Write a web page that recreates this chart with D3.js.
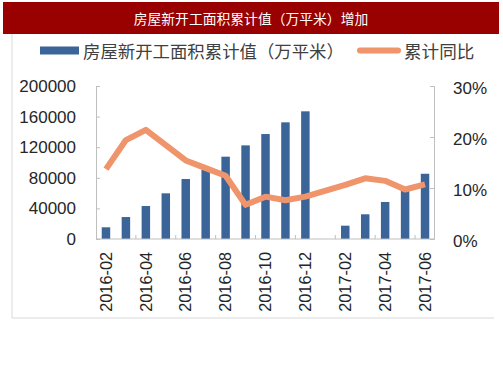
<!DOCTYPE html>
<html><head><meta charset="utf-8">
<script src="https://cdn.jsdelivr.net/npm/d3@7"></script>
<style>body{margin:0;background:#fff}svg{display:block}</style>
</head><body>
<svg id="c" width="503" height="378"></svg>
<script>
const categories = ["2016-02","2016-03","2016-04","2016-05","2016-06","2016-07","2016-08","2016-09","2016-10","2016-11","2016-12","2017-01","2017-02","2017-03","2017-04","2017-05","2017-06"];
const areaValues = [15300,28700,43100,59700,78400,90200,107600,122400,137200,152500,166900,null,17400,32300,48400,64000,85300];
const growthValues = [0.137,0.194,0.214,0.184,0.154,0.139,0.124,0.067,0.083,0.076,0.083,null,0.106,0.119,0.114,0.097,0.107];
const leftTicks = [0,40000,80000,120000,160000,200000];
const rightTicks = [0,0.1,0.2,0.3];
const xLabels = ["2016-02","2016-04","2016-06","2016-08","2016-10","2016-12","2017-02","2017-04","2017-06"];
const title = "房屋新开工面积累计值（万平米）增加";
const seriesNames = ["房屋新开工面积累计值（万平米）","累计同比"];

const svg = d3.select("#c");
const font = "'Liberation Sans', Arial, sans-serif";
const cjk = "'Noto Sans CJK SC', sans-serif";

// title bar
svg.append("rect").attr("x",3).attr("y",2).attr("width",496).attr("height",32).attr("fill","#990000");
svg.append("text").attr("x",251).attr("y",18).attr("text-anchor","middle").attr("dominant-baseline","central")
  .attr("fill","#fff").attr("font-family",cjk).attr("font-size",13.8).text(title);

// frame
svg.append("line").attr("x1",12).attr("x2",12).attr("y1",34).attr("y2",318).attr("stroke","#d9d9d9");
svg.append("line").attr("x1",12).attr("x2",494).attr("y1",318).attr("y2",318).attr("stroke","#d9d9d9");

// legend
svg.append("rect").attr("x",40).attr("y",46.5).attr("width",39).attr("height",8).attr("fill","#3b6499");
svg.append("text").attr("x",83).attr("y",50.5).attr("dominant-baseline","central").attr("fill","#404040")
  .attr("font-family",cjk).attr("font-size",17.4).text(seriesNames[0]);
svg.append("line").attr("x1",360).attr("x2",398).attr("y1",50.5).attr("y2",50.5).attr("stroke","#ef946b")
  .attr("stroke-width",6).attr("stroke-linecap","round");
svg.append("text").attr("x",404).attr("y",50.5).attr("dominant-baseline","central").attr("fill","#404040")
  .attr("font-family",cjk).attr("font-size",17.6).text(seriesNames[1]);

// scales
const x = d3.scaleBand().domain(categories).range([96,435]).paddingInner(0.575).paddingOuter(0.2875);
const yL = d3.scaleLinear().domain([0,200000]).range([239,86]);
const yR = d3.scaleLinear().domain([0,0.3]).range([239,86]);
const axisColor = "#bfbfbf";

// left axis
const gL = svg.append("g").attr("transform","translate(96,0)")
  .call(d3.axisLeft(yL).tickValues(leftTicks).tickSize(-4).tickPadding(20).tickFormat(d3.format("d")));
gL.select(".domain").attr("stroke",axisColor);
gL.selectAll(".tick line").attr("stroke",axisColor);
gL.selectAll("text").attr("font-family",font).attr("font-size",17).attr("fill","#262626");

// right axis
const gR = svg.append("g").attr("transform","translate(434,0)")
  .call(d3.axisRight(yR).tickValues(rightTicks).tickSize(-4).tickPadding(19).tickFormat(d3.format(".0%")));
gR.select(".domain").attr("stroke",axisColor);
gR.selectAll(".tick line").attr("stroke",axisColor);
gR.selectAll("text").attr("font-family",font).attr("font-size",17).attr("fill","#262626").attr("dy","0.45em");

// bars
svg.append("g").selectAll("rect").data(categories.map((c,i)=>({c,v:areaValues[i]})).filter(d=>d.v!=null))
  .join("rect").attr("x",d=>x(d.c)).attr("width",x.bandwidth())
  .attr("y",d=>yL(d.v)).attr("height",d=>yL(0)-yL(d.v)).attr("fill","#3b6499");

// x axis
const step = x.step();
const gX = svg.append("g");
gX.append("line").attr("x1",96).attr("x2",435).attr("y1",239).attr("y2",239).attr("stroke",axisColor);
const tickPos = d3.range(2,17,2).map(k=>x.range()[0]+k*step);
gX.selectAll("line.t").data(tickPos).join("line").attr("class","t")
  .attr("x1",d=>d).attr("x2",d=>d).attr("y1",239).attr("y2",235).attr("stroke",axisColor);
gX.selectAll("text").data(xLabels).join("text")
  .attr("transform",d=>`translate(${x(d)+x.bandwidth()/2},252) rotate(-90)`)
  .attr("text-anchor","end").attr("dy","0.35em")
  .attr("font-family",font).attr("font-size",16.3).attr("fill","#262626").text(d=>d);

// line
const pts = categories.map((c,i)=>({c,v:growthValues[i]})).filter(d=>d.v!=null);
svg.append("path").datum(pts)
  .attr("d",d3.line().x(d=>x(d.c)+x.bandwidth()/2).y(d=>yR(d.v)))
  .attr("fill","none").attr("stroke","#ef946b").attr("stroke-width",6).attr("stroke-linejoin","round").attr("stroke-linecap","butt");
</script>
</body></html>
